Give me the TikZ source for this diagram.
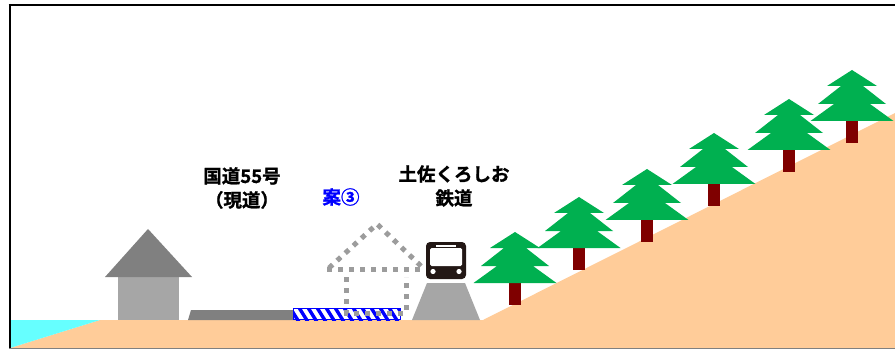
\documentclass[tikz,border=0pt]{standalone}
\usepackage{fontspec}
\newfontfamily\jp{Noto Sans CJK JP}[BoldFont={Noto Sans CJK JP Bold}, BoldFeatures={FakeBold=1.2}]
\definecolor{soil}{HTML}{FFCC99}
\definecolor{sea}{HTML}{66FFFF}
\definecolor{roofgray}{HTML}{808080}
\definecolor{wallgray}{HTML}{A6A6A6}
\definecolor{dotgray}{HTML}{9C9C9C}
\definecolor{leaf}{HTML}{00B050}
\definecolor{bark}{HTML}{7F0000}
\definecolor{trainbody}{HTML}{231815}
\begin{document}
\begin{tikzpicture}[x=1pt,y=-1pt,
  label/.style={font=\jp\bfseries\fontsize{18.5}{24}\selectfont, align=center, inner sep=0pt},
  planline/.style={draw=dotgray, line width=5pt, dash pattern=on 5pt off 6pt}]
\useasboundingbox (0,0) rectangle (895,350);
\fill[white] (0,0) rectangle (895,350);

% ground and sea
\fill[soil] (10,348) -- (100,320) -- (483,320) -- (895,113) -- (895,348) -- cycle;
\fill[sea] (10,320) -- (100,320) -- (10,348) -- cycle;

% frame
\draw[black, line width=2pt] (8.5,5) -- (895,5);
\draw[black, line width=2pt] (9.5,4) -- (9.5,349);
\draw[gray, line width=1.2pt] (9,348.5) -- (895,348.5);

% house
\fill[wallgray] (118,277) rectangle (179,320);
\fill[roofgray] (105,277) -- (148,229) -- (192,277) -- cycle;

% national route 55
\fill[roofgray] (188,320) -- (191,310) -- (294,310) -- (296,320) -- cycle;

% plan 3 strip
\begin{scope}
  \clip (293,308) rectangle (400,320);
  \fill[white] (293,308) rectangle (400,320);
  \foreach \s in {280,289,...,405}
    \draw[blue, line width=3.4pt] (\s,306) -- (\s+10,322);
\end{scope}
\draw[blue, line width=0.8pt] (293,308.4) rectangle (400,319.6);

% plan 3 outline
\draw[planline] (346,277) -- (346,313) -- (406,313) -- (406,277);
\draw[planline] (327,269) -- (423,269);
\draw[planline] (329,268) -- (377,224) -- (423,268);

% railway embankment and train
\fill[wallgray] (412,320) -- (427,283) -- (465,283) -- (480,320) -- cycle;
\fill[trainbody, rounded corners=4pt] (426,242) rectangle (466,279);
\fill[white] (436,244.5) rectangle (456,246.5);
\fill[white, rounded corners=1.5pt] (430,248) rectangle (462,266);
\fill[white] (433,271.5) circle (2.6);
\fill[white] (459,271.5) circle (2.6);

% trees on the slope
\foreach \cx/\by in {515/283, 579/248, 647/220, 714/184, 789/150, 852/121}{
  \fill[bark] (\cx-5.8,\by) rectangle (\cx+5.8,\by+22);
  \fill[leaf] (\cx,\by-51) -- (\cx+25,\by-35) -- (\cx+11,\by-35) -- (\cx+34,\by-17)
    -- (\cx+18,\by-17) -- (\cx+41.5,\by) -- (\cx-41.5,\by) -- (\cx-18,\by-17)
    -- (\cx-34,\by-17) -- (\cx-11,\by-35) -- (\cx-25,\by-35) -- cycle;
}

% labels
\node[label] (route) at (242,188) {国道55号\\（現道）};
\node[label] (rail) at (454,186) {土佐くろしお\\鉄道};
\node[label, text=blue] (plan) at (341,197) {案③};
\end{tikzpicture}
\end{document}
